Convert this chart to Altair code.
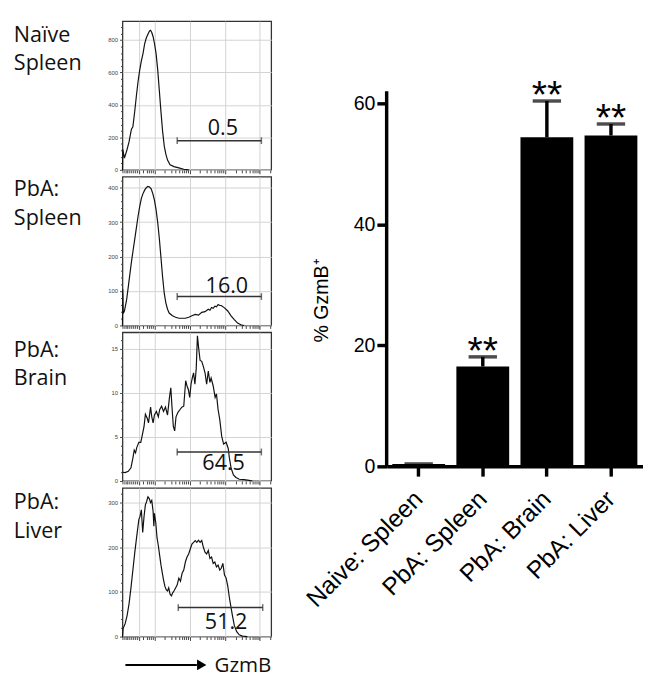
import altair as alt
import pandas as pd

# ---------------- data ----------------
panel_labels = ["Naïve\nSpleen", "PbA:\nSpleen", "PbA:\nBrain", "PbA:\nLiver"]
gate_pct = ["0.5", "16.0", "64.5", "51.2"]

# histogram 1 (Naive spleen)
h1_x = [0, 2, 13, 28, 44, 57, 61, 70, 83, 94, 105, 116, 127, 138, 149, 160, 171, 182, 189, 197,
        206, 215, 226, 237, 248, 259, 270, 281, 292, 303, 320, 346, 379, 412, 445]
h1_y = [0, 126, 72, 116, 172, 236, 252, 266, 366, 460, 546, 616, 672, 716, 776, 812, 836, 856, 860, 846,
        820, 780, 716, 616, 486, 356, 236, 146, 96, 60, 32, 20, 12, 4, 0]

# histogram 2 (PbA spleen)
h2_x = [0, 2, 5, 13, 28, 39, 50, 61, 72, 83, 94, 105, 116, 127, 138, 149, 160, 171, 182, 193,
        204, 215, 226, 237, 248, 259, 270, 281, 292, 303, 314, 336, 357, 379, 401, 423, 445, 467, 489, 511,
        533, 555, 577, 588, 599, 610, 621, 632, 643, 654, 664, 686, 708, 730, 752, 774, 796, 818]
h2_y = [0, 105, 35, 42, 75, 112, 150, 187, 220, 252, 285, 318, 346, 369, 383, 393, 400, 404, 402, 397,
        383, 364, 336, 299, 252, 196, 140, 93, 65, 47, 36, 28, 24, 21, 21, 21, 24, 28, 32, 30,
        38, 40, 47, 44, 52, 50, 56, 54, 61, 58, 58, 51, 42, 28, 17, 7, 2, 0]

# histogram 3 (PbA brain)
h3_x = [0, 18, 39, 57, 70, 79, 88, 96, 110, 123, 132, 145, 154, 167, 175, 189, 197, 206, 215, 228,
        241, 250, 263, 276, 289, 303, 316, 325, 333, 342, 351, 360, 373, 386, 399, 412, 425, 434, 443, 452,
        461, 469, 478, 487, 496, 504, 513, 522, 533, 544, 555, 566, 577, 588, 596, 610, 623, 632, 643, 654,
        667, 680, 697, 711, 719, 730, 746, 763, 785, 818, 851, 873]
h3_y = [1.0, 0.95, 1.1, 1.5, 2.6, 3.5, 3.2, 3.8, 4.4, 4.4, 5.1, 6.2, 7.6, 7.1, 6.6, 8.4, 7.3, 6.6, 7.5, 7.9,
        7.3, 8.1, 8.5, 7.9, 8.4, 7.5, 9.5, 10.6, 8.4, 6.2, 5.7, 7.3, 7.8, 8.1, 8.4, 8.5, 11.4, 10.8, 10.4, 9.5,
        11.0, 11.7, 12.3, 11.0, 12.8, 16.5, 15.0, 13.7, 13.6, 13.0, 12.3, 11.0, 12.5, 11.2, 11.7, 10.8, 9.5, 9.9, 8.1, 7.0,
        5.1, 4.2, 4.4, 3.7, 2.6, 1.5, 0.7, 0.4, 0.2, 0.15, 0.07, 0]

# histogram 4 (PbA liver)
h4_x = [0, 4, 18, 31, 44, 57, 70, 83, 96, 110, 118, 127, 136, 145, 154, 162, 171, 180, 189, 197,
        206, 211, 215, 224, 232, 241, 250, 259, 268, 276, 285, 294, 303, 311, 320, 329, 338, 346, 357, 368,
        379, 390, 401, 412, 423, 434, 445, 456, 467, 478, 489, 500, 511, 522, 533, 544, 555, 566, 577, 588,
        599, 610, 621, 632, 643, 654, 664, 675, 686, 697, 708, 719, 730, 741, 752, 768, 785, 807, 840]
h4_y = [0, 18, 29, 47, 73, 109, 149, 189, 225, 262, 269, 284, 233, 269, 295, 302, 313, 309, 300, 305,
        280, 247, 276, 255, 222, 204, 182, 160, 142, 127, 113, 105, 102, 109, 95, 91, 98, 102, 109, 116,
        131, 124, 142, 149, 167, 178, 185, 196, 207, 211, 215, 211, 216, 211, 215, 200, 189, 185, 193, 175,
        178, 164, 167, 156, 160, 149, 153, 164, 138, 131, 113, 87, 65, 44, 25, 11, 4, 1, 0]

hist_x = [h1_x, h2_x, h3_x, h4_x]
hist_y = [h1_y, h2_y, h3_y, h4_y]
hist_ymax = [916, 432, 16.9, 333]
hist_major = [200, 100, 5, 100]
hist_minor = [40, 20, 1, 20]
gate_x1 = [368, 368, 368, 375]
gate_x2 = [934, 934, 934, 943]
gate_y = [180, 84, 3.3, 65]
gate_lab_x = [675, 702, 680, 697]
gate_lab_y = [212, 93, 1.2, 18]
label_dy = [21, 20, 25, 22]

x_ticks = [0, 12, 24, 36, 48, 60, 72, 84, 96, 110, 140, 163, 180, 193, 204, 215, 286, 328, 358, 381,
           399, 415, 429, 441, 452, 523, 565, 595, 618, 636, 652, 666, 678, 689, 760, 802, 832, 855, 873,
           889, 903, 915, 921, 992]
x_grid = [110, 215, 452, 689, 921]

# bar chart
bar_cats = ["Naive: Spleen", "PbA: Spleen", "PbA: Brain", "PbA: Liver"]
bar_vals = [0.4, 16.5, 54.4, 54.7]
bar_err = [0.4, 18.1, 60.4, 56.6]
bar_sig = ["", "**", "**", "**"]
y_ticks = [0, 20, 40, 60]
y_axis_end = 62

LABEL_FONT = "Open Sans"
ARIAL = "Liberation Sans"


def hist_panel(i, bottom=False):
    df = pd.DataFrame({"x": hist_x[i], "y": hist_y[i]})
    ymax = hist_ymax[i]
    major = hist_major[i]
    minor = hist_minor[i]
    yvals = []
    v = 0
    while v <= ymax:
        yvals.append(v)
        v += minor
    is_major = f"datum.value % {major} === 0"
    xsc = alt.Scale(domain=[0, 1000], nice=False, zero=False)
    ysc = alt.Scale(domain=[0, ymax], nice=False, zero=True)
    grid_test = "indexof([" + ",".join(str(g) for g in x_grid) + "], datum.value) >= 0"
    xaxis = alt.Axis(
        values=x_ticks, labels=False, title=None, domain=False,
        tickColor="#444", tickWidth=1,
        tickSize={"condition": {"test": grid_test, "value": 4}, "value": 3},
        grid=True, gridColor="#d2d2d2", gridWidth=1,
        gridOpacity={"condition": {"test": grid_test, "value": 1}, "value": 0},
    )
    yaxis = alt.Axis(
        values=yvals, title=None, domain=False,
        labelExpr=f"{is_major} ? datum.label : ''",
        labelFontSize=6, labelColor="#444", labelFont=ARIAL, labelPadding=2,
        tickColor="#444", tickWidth=1,
        tickSize={"condition": {"test": is_major, "value": 3}, "value": 2},
        grid=True, gridColor="#d2d2d2", gridWidth=1,
        gridOpacity={"condition": {"test": is_major, "value": 1}, "value": 0},
    )
    X = lambda f: alt.X(f, scale=xsc, axis=xaxis)
    Y = lambda f: alt.Y(f, scale=ysc, axis=yaxis)

    line = alt.Chart(df).mark_line(color="#111", strokeWidth=1.2, interpolate="linear").encode(
        x=X("x:Q"), y=Y("y:Q"), order="x:Q")

    gdf = pd.DataFrame({"x1": [gate_x1[i]], "x2": [gate_x2[i]], "y": [gate_y[i]],
                        "lx": [gate_lab_x[i]], "ly": [gate_lab_y[i]], "t": [gate_pct[i]]})
    gate = alt.Chart(gdf).mark_rule(color="#333", strokeWidth=1.5).encode(
        x=X("x1:Q"), x2="x2:Q", y=Y("y:Q"))
    cdf = pd.DataFrame({"x": [gate_x1[i], gate_x2[i]], "y": [gate_y[i], gate_y[i]]})
    caps = alt.Chart(cdf).mark_tick(orient="vertical", size=7, thickness=1.5, color="#333").encode(
        x=X("x:Q"), y=Y("y:Q"))
    gtext = alt.Chart(gdf).mark_text(font=LABEL_FONT, fontSize=22, align="center",
                                     baseline="alphabetic", color="#111").encode(
        x=X("lx:Q"), y=Y("ly:Q"), text="t:N")

    ldf = pd.DataFrame({"t": [panel_labels[i]]})
    plabel = alt.Chart(ldf).mark_text(font=LABEL_FONT, fontSize=22, align="left", baseline="alphabetic",
                                      lineBreak="\n", lineHeight=29, color="#111").encode(
        x=alt.value(-111), y=alt.value(label_dy[i]), text="t:N")

    layers = [line, gate, caps, gtext, plabel]
    if bottom:
        adf = pd.DataFrame({"t": ["GzmB"]})
        arrow_line = alt.Chart(adf).mark_rule(color="black", strokeWidth=2).encode(
            x=alt.value(3), x2=alt.value(76), y=alt.value(181))
        arrow_head = alt.Chart(adf).mark_point(shape="triangle-right", filled=True, size=120,
                                               color="black", opacity=1).encode(
            x=alt.value(81), y=alt.value(181))
        arrow_text = alt.Chart(adf).mark_text(font=LABEL_FONT, fontSize=21, align="left",
                                              baseline="alphabetic", color="#111").encode(
            x=alt.value(94), y=alt.value(188), text="t:N")
        layers += [arrow_line, arrow_head, arrow_text]
    return alt.layer(*layers).properties(
        width=152, height=152, view=alt.ViewBackground(stroke="#333", strokeWidth=1.3))


left = alt.vconcat(*[hist_panel(i, bottom=(i == 3)) for i in range(4)], spacing=0)

# ---------------- bar chart ----------------
bdf = pd.DataFrame({"cat": bar_cats, "val": bar_vals, "err": bar_err, "sig": bar_sig})
xb = alt.Scale(domain=bar_cats, paddingInner=0.176, paddingOuter=0.088)
yb = alt.Scale(domain=[0, 73.6], nice=False, zero=True)
xb_axis = alt.Axis(title=None, labelAngle=-45, labelAlign="right", labelBaseline="middle",
                   labelFontSize=25, labelFont=ARIAL, labelColor="black", labelPadding=19,
                   domainColor="black", domainWidth=3.5, tickColor="black", tickWidth=3.5,
                   tickSize=10, grid=False)
yb_axis = alt.Axis(values=y_ticks, title="% GzmB\u207a", titleFont=ARIAL, titleFontSize=20,
                   titleFontWeight="normal", titleColor="black", titlePadding=22, titleY=285,
                   labelFontSize=20, labelFont=ARIAL, labelColor="black", labelPadding=2,
                   domain=False, tickColor="black", tickWidth=3.5, tickSize=10, grid=False)
XB = lambda f: alt.X(f, scale=xb, axis=xb_axis, sort=bar_cats)
YB = lambda f: alt.Y(f, scale=yb, axis=yb_axis)

bars = alt.Chart(bdf).mark_bar(color="black").encode(x=XB("cat:N"), y=YB("val:Q"))
err_line = alt.Chart(bdf).mark_rule(color="black", strokeWidth=3.5).encode(
    x=XB("cat:N"), y=YB("val:Q"), y2="err:Q")
err_cap = alt.Chart(bdf).mark_tick(orient="horizontal", size=29, thickness=3.5, color="black").encode(
    x=XB("cat:N"), y=YB("err:Q"))
stars = alt.Chart(bdf).mark_text(font=ARIAL, fontSize=40, align="center", baseline="alphabetic",
                                 dy=7, color="black").encode(
    x=XB("cat:N"), y=YB("err:Q"), text="sig:N")
axdf = pd.DataFrame({"y0": [0], "y1": [y_axis_end]})
yline = alt.Chart(axdf).mark_rule(color="black", strokeWidth=3.5).encode(
    x=alt.value(0), y=YB("y0:Q"), y2="y1:Q")

right = alt.layer(bars, err_line, err_cap, stars, yline).properties(
    width=262, height=455, view=alt.ViewBackground(stroke=None))

chart = alt.hconcat(left, right, spacing=30).properties(
    padding={"left": 5, "top": 5, "right": 0, "bottom": 0},
    background="white",
)

chart.save("out.html", embed_options={"renderer": "svg", "actions": False})
